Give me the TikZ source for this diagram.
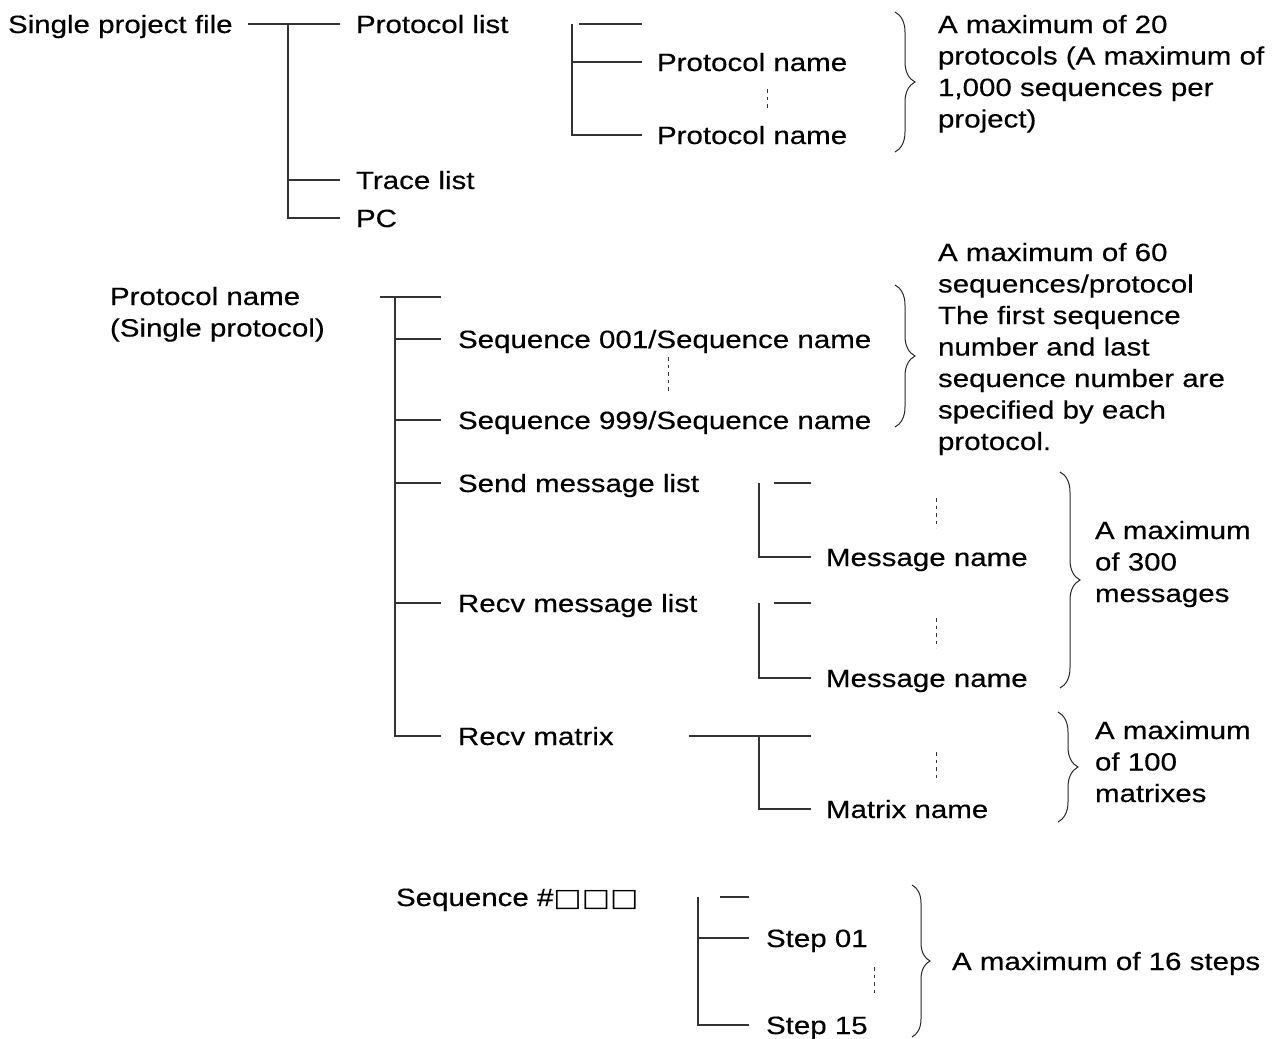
\documentclass[tikz,border=0pt]{standalone}
\usepackage{fontspec}
\setmainfont{Liberation Sans}[FakeStretch=1.18, FakeBold=0.35]
\newfontfamily\boxfont{DejaVu Sans}[FakeStretch=1.2]
\usetikzlibrary{decorations.pathreplacing}
\begin{document}
\begin{tikzpicture}[x=1pt,y=-1pt,
  every node/.style={inner sep=0pt, outer sep=0pt, font=\fontsize{25}{31.5}\selectfont},
  txt/.style={anchor=base west, align=left},
  ln/.style={line width=1.1pt, draw=black!80},
  dots/.style={line width=1pt, draw=black!80, dash pattern=on 3.5pt off 4pt},
  brc/.style={line width=1pt, draw=black!85, decorate, decoration={brace, amplitude=#1}},
  brc/.default=20pt]
\useasboundingbox (0,0) rectangle (1278,1039);

% ---------- top tree ----------
\node[txt] (spf) at (8,33) {Single project file};
\node[txt] (pl)  at (356,33) {Protocol list};
\node[txt] (tl)  at (356,189) {Trace list};
\node[txt] (pc)  at (356,227) {PC};
\coordinate (a0) at (248,24);  \coordinate (a1) at (288,24);  \coordinate (a2) at (340,24);
\coordinate (a3) at (288,180); \coordinate (a4) at (340,180);
\coordinate (a5) at (288,218); \coordinate (a6) at (340,218);
\draw[ln] (a0) -- (a2);
\draw[ln] (a1) -- (a5) -- (a6);
\draw[ln] (a3) -- (a4);

% protocol list sub-tree
\node[txt] (pn1) at (657,71) {Protocol name};
\node[txt] (pn2) at (657,144) {Protocol name};
\coordinate (b0) at (579,24);  \coordinate (b1) at (642,24);
\coordinate (b2) at (572,24);
\coordinate (b3) at (572,62);  \coordinate (b3e) at (642,62);
\coordinate (b4) at (572,135); \coordinate (b4e) at (642,135);
\draw[ln] (b0) -- (b1);
\draw[ln] (b2) -- (b4) -- (b4e);
\draw[ln] (b3) -- (b3e);
\coordinate (d1a) at (767,89); \coordinate (d1b) at (767,110);
\draw[dots] (d1a) -- (d1b);
\coordinate (r1a) at (895,12); \coordinate (r1b) at (895,152);
\draw[brc] (r1a) -- (r1b);
% multi-line nodes: base anchor = baseline of the last line
\node[txt] (n1) at (938,127.5) {A maximum of 20\\protocols (A maximum of\\1,000 sequences per\\project)};

% ---------- protocol tree ----------
\node[txt] (pn) at (110,336.5) {Protocol name\\(Single protocol)};
\coordinate (c0) at (380,297); \coordinate (c1) at (395,297); \coordinate (c2) at (441,297);
\coordinate (c3) at (395,339); \coordinate (c3e) at (441,339);
\coordinate (c4) at (395,420); \coordinate (c4e) at (441,420);
\coordinate (c5) at (395,483); \coordinate (c5e) at (441,483);
\coordinate (c6) at (395,603); \coordinate (c6e) at (441,603);
\coordinate (c7) at (395,736); \coordinate (c7e) at (441,736);
\draw[ln] (c0) -- (c2);
\draw[ln] (c1) -- (c7) -- (c7e);
\draw[ln] (c3) -- (c3e);
\draw[ln] (c4) -- (c4e);
\draw[ln] (c5) -- (c5e);
\draw[ln] (c6) -- (c6e);
\node[txt] (s1) at (458,348) {Sequence 001/Sequence name};
\node[txt] (s2) at (458,429) {Sequence 999/Sequence name};
\node[txt] (sml) at (458,492) {Send message list};
\node[txt] (rml) at (458,612) {Recv message list};
\node[txt] (rmx) at (458,745) {Recv matrix};
\coordinate (d2a) at (668,357); \coordinate (d2b) at (668,392);
\draw[dots] (d2a) -- (d2b);
\coordinate (r2a) at (895,285); \coordinate (r2b) at (895,427);
\draw[brc] (r2a) -- (r2b);
\node[txt] (n2) at (938,450) {A maximum of 60\\sequences/protocol\\The first sequence\\number and last\\sequence number are\\specified by each\\protocol.};

% send message sub-tree
\coordinate (e0) at (774,483); \coordinate (e1) at (811,483);
\coordinate (e2) at (759,483); \coordinate (e3) at (759,557); \coordinate (e4) at (811,557);
\draw[ln] (e0) -- (e1);
\draw[ln] (e2) -- (e3) -- (e4);
\node[txt] (m1) at (826,566) {Message name};
\coordinate (d3a) at (936,498); \coordinate (d3b) at (936,528);
\draw[dots] (d3a) -- (d3b);

% recv message sub-tree
\coordinate (f0) at (774,603); \coordinate (f1) at (811,603);
\coordinate (f2) at (759,603); \coordinate (f3) at (759,678); \coordinate (f4) at (811,678);
\draw[ln] (f0) -- (f1);
\draw[ln] (f2) -- (f3) -- (f4);
\node[txt] (m2) at (826,687) {Message name};
\coordinate (d4a) at (936,618); \coordinate (d4b) at (936,648);
\draw[dots] (d4a) -- (d4b);
\coordinate (r3a) at (1060,472); \coordinate (r3b) at (1060,688);
\draw[brc] (r3a) -- (r3b);
\node[txt] (n3) at (1095,602) {A maximum\\of 300\\messages};

% recv matrix sub-tree
\coordinate (g0) at (689,736); \coordinate (g1) at (759,736); \coordinate (g2) at (811,736);
\coordinate (g3) at (759,809); \coordinate (g4) at (811,809);
\draw[ln] (g0) -- (g2);
\draw[ln] (g1) -- (g3) -- (g4);
\node[txt] (mx) at (826,818) {Matrix name};
\coordinate (d5a) at (936,752); \coordinate (d5b) at (936,782);
\draw[dots] (d5a) -- (d5b);
\coordinate (r4a) at (1058,712); \coordinate (r4b) at (1058,822);
\draw[brc] (r4a) -- (r4b);
\node[txt] (n4) at (1095,802) {A maximum\\of 100\\matrixes};

% ---------- sequence tree ----------
\node[txt] (sq) at (396,906) {Sequence \#{\boxfont □□□}};
\coordinate (h0) at (720,897); \coordinate (h1) at (749,897);
\coordinate (h2) at (698,897);
\coordinate (h3) at (698,938); \coordinate (h3e) at (749,938);
\coordinate (h4) at (698,1025); \coordinate (h4e) at (749,1025);
\draw[ln] (h0) -- (h1);
\draw[ln] (h2) -- (h4) -- (h4e);
\draw[ln] (h3) -- (h3e);
\node[txt] (st1) at (766,947) {Step 01};
\node[txt] (st2) at (766,1034) {Step 15};
\coordinate (d6a) at (874,967); \coordinate (d6b) at (874,997);
\draw[dots] (d6a) -- (d6b);
\coordinate (r5a) at (912,885); \coordinate (r5b) at (912,1037);
\draw[brc=18pt] (r5a) -- (r5b);
\node[txt] (n5) at (952,970) {A maximum of 16 steps};
\end{tikzpicture}
\end{document}
